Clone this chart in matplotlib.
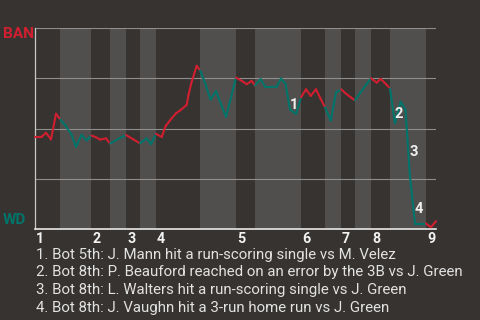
import matplotlib
matplotlib.use("Agg")
import matplotlib.pyplot as plt

plt.rcParams['font.family'] = ['Roboto', 'DejaVu Sans']

# ---- data ----
# game progress (plate-appearance units) and BAN win probability
progress = [0.0, 1.51, 2.55, 3.71, 4.87, 5.87, 6.96, 8.51, 9.51, 10.78, 11.94, 13.06,
            14.03, 15.07, 16.47, 17.4, 18.55, 19.71, 21.1, 22.8, 24.35, 25.9, 26.9, 28.06,
            29.38, 30.31, 31.7, 32.7, 33.63, 35.18, 35.6, 36.34, 37.5, 38.3, 39.43, 40.7,
            41.98, 44.3, 46.62, 47.94, 49.1, 50.26, 51.02, 52.34, 53.34, 54.73, 56.05, 57.05,
            58.1, 59.14, 60.53, 61.69, 62.85, 63.94, 65.17, 66.21, 67.26, 68.58, 69.81, 70.97,
            72.24, 73.28, 74.21, 75.49, 76.76, 77.92, 79.24, 80.17, 81.33, 82.33, 83.49, 84.81,
            85.93, 86.97, 88.13, 89.29, 90.68, 91.84, 93.0]
ban_wp = [0.459, 0.459, 0.479, 0.446, 0.574, 0.545, 0.518, 0.468, 0.408, 0.469, 0.441, 0.465,
          0.458, 0.445, 0.451, 0.425, 0.439, 0.453, 0.468, 0.446, 0.426, 0.451, 0.423, 0.473,
          0.458, 0.513, 0.551, 0.576, 0.590, 0.618, 0.668, 0.734, 0.813, 0.790, 0.728, 0.645,
          0.686, 0.558, 0.754, 0.738, 0.721, 0.738, 0.715, 0.746, 0.709, 0.709, 0.709, 0.750,
          0.723, 0.595, 0.573, 0.656, 0.696, 0.663, 0.696, 0.650, 0.606, 0.540, 0.679, 0.696,
          0.672, 0.655, 0.640, 0.680, 0.718, 0.751, 0.729, 0.748, 0.723, 0.700, 0.526, 0.634,
          0.593, 0.258, 0.026, 0.026, 0.026, 0.008, 0.038]

# half-inning boundaries (top 1st, bot 1st, top 2nd, ...), last = end
half_starts = [0.0, 5.87, 13.06, 17.32, 21.1, 24.35, 28.06, 38.27, 46.62, 51.02, 61.69,
               67.26, 70.97, 74.21, 77.92, 82.33, 90.68, 93.0]
inning_labels = ['1', '2', '3', '4', '5', '6', '7', '8', '9']

event_idx = [49, 70, 73, 74]
event_labels = ['1', '2', '3', '4']
event_text = [
    "1. Bot 5th: J. Mann hit a run-scoring single vs M. Velez",
    "2. Bot 8th: P. Beauford reached on an error by the 3B vs J. Green",
    "3. Bot 8th: L. Walters hit a run-scoring single vs J. Green",
    "4. Bot 8th: J. Vaughn hit a 3-run home run vs J. Green",
]
teams = ['BAN', 'WD']

# ---- style ----
BG = '#363330'
BAND = '#504f4d'
RED = '#d21f30'
TEAL = '#00756b'
W, H = 480, 320

fig = plt.figure(figsize=(4.8, 3.2), dpi=100, facecolor=BG)
L, R, T, B = 35, 436, 28.3, 228.8
ax = fig.add_axes([L / W, 1 - B / H, (R - L) / W, (B - T) / H])
ax.set_facecolor(BG)
ax.set_xlim(half_starts[0], half_starts[-1])
ax.set_ylim(0, 1)

# bottom half-inning bands
for k in range(1, len(half_starts) - 1, 2):
    ax.axvspan(half_starts[k], half_starts[k + 1], color=BAND, lw=0, zorder=0)

for yv in [0.25, 0.5, 0.75, 1.0]:
    ax.axhline(yv, color='#8e8e8e', lw=0.8, zorder=1)

for s in ['top', 'right']:
    ax.spines[s].set_visible(False)
ax.spines['left'].set_color('#c8c8c8')
ax.spines['left'].set_linewidth(0.9)
ax.spines['bottom'].set_color('#e8e8e8')
ax.spines['bottom'].set_linewidth(1.2)
ax.set_xticks([])
ax.set_yticks([])


def half_of(x):
    for k in range(len(half_starts) - 1):
        if half_starts[k] <= x < half_starts[k + 1]:
            return k
    return len(half_starts) - 2


for i in range(len(progress) - 1):
    xm = (progress[i] + progress[i + 1]) / 2
    col = RED if half_of(xm) % 2 == 0 else TEAL
    ax.plot(progress[i:i + 2], ban_wp[i:i + 2], color=col, lw=1.5,
            solid_capstyle='round', zorder=3, clip_on=False)

# event markers
for idx, lab in zip(event_idx, event_labels):
    xm = (progress[idx - 1] + progress[idx]) / 2
    ym = (ban_wp[idx - 1] + ban_wp[idx]) / 2
    ax.annotate(lab, (xm, ym), xytext=(4.5, -6), textcoords='offset points',
                ha='center', va='center', color='#f0f0f0', fontsize=10.5,
                fontweight='bold', zorder=4)

# inning labels at start of each top half
for n, lab in enumerate(inning_labels):
    ax.text(half_starts[2 * n] + 0.25, -0.015, lab, ha='left', va='top',
            color='#f2f2f2', fontsize=10.3, fontweight='bold')

fig.text(2.5 / W, 1 - 33.8 / H, teams[0], color=RED, fontsize=11, fontweight='bold',
         ha='left', va='center')
fig.text(2.5 / W, 1 - 219.5 / H, teams[1], color=TEAL, fontsize=11, fontweight='bold',
         ha='left', va='center')

for k, line in enumerate(event_text):
    fig.text(36 / W, 1 - (258.5 + 17.7 * k) / H, line, color='#e2e2e2', fontsize=10.8,
             ha='left', va='baseline')

fig.savefig('out.png', dpi=100, facecolor=BG)
